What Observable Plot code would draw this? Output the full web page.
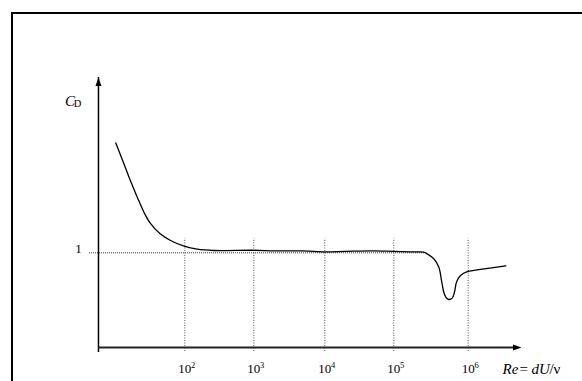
<!DOCTYPE html>
<html><head><meta charset="utf-8">
<script src="https://cdn.jsdelivr.net/npm/d3@7"></script>
<script src="https://cdn.jsdelivr.net/npm/@observablehq/plot@0.6"></script>
<style>
html,body{margin:0;padding:0;background:#fff;overflow:hidden;}
#wrap{position:relative;width:582px;height:381px;}
#wrap svg{position:absolute;left:0;top:0;}
#border{position:absolute;left:11px;top:12px;width:571px;height:369px;border-left:2px solid #000;border-top:2px solid #000;box-sizing:border-box;z-index:2;pointer-events:none;}
</style></head><body><div id="wrap"><div id="border"></div></div>
<script>
// Drag coefficient curve of a cylinder (schematic)
const reValues = [10, 13.1, 16.3, 20.4, 25.5, 31.8, 43.9, 62.1, 100, 151, 263, 1000, 2000, 5000, 1e4, 2e4, 5e4, 1e5, 2e5, 2.51e5, 2.81e5, 3.45e5, 4.03e5, 4.38e5, 4.70e5, 5.06e5, 5.48e5, 6.09e5, 6.54e5, 6.96e5, 7.88e5, 9.88e5, 1.46e6, 3.2e6];
const cdValues = [2.16, 1.94, 1.76, 1.59, 1.43, 1.31, 1.20, 1.13, 1.067, 1.038, 1.024, 1.027, 1.02, 1.02, 1.01, 1.015, 1.02, 1.015, 1.01, 1.006, 0.989, 0.937, 0.848, 0.707, 0.584, 0.525, 0.507, 0.521, 0.584, 0.690, 0.760, 0.803, 0.824, 0.863];
const xTickValues = [1e2, 1e3, 1e4, 1e5, 1e6];
const xTickBase = "10";
const xTickExponents = ["2", "3", "4", "5", "6"];
const yTickValues = [1];
const yTickLabels = ["1"];
const yLabelMain = "C";
const yLabelSub = "D";
const xLabelParts = ["Re", "=", "dU", "/", "\u03BD"];

const curve = reValues.map((re, i) => ({re, cd: cdValues[i]}));

// axis extents (data space)
const xAxisStart = 5.61, xAxisEnd = 5.2e6;
const yAxisBottom = 0, yAxisTop = 2.851;

const serif = "'Liberation Serif', 'Times New Roman', serif";

const arrowHead = {
  draw(ctx) {
    ctx.moveTo(0, 0);
    ctx.lineTo(3, 8.5);
    ctx.lineTo(-3, 8.5);
    ctx.closePath();
  }
};

// per-part horizontal offsets (px) and styles for the x label
const labelOffsets = [-19, -2, 10, 28, 32];
const labelStyles = ["italic", "normal", "italic", "normal", "normal"];

const chart = Plot.plot({
  width: 582,
  height: 381,
  margin: 0,
  style: {background: "none", fontFamily: serif, color: "#000"},
  x: {type: "log", domain: xTickValues, range: [184.3, 253.3, 324.3, 393.3, 467.7], axis: null},
  y: {type: "linear", domain: [yAxisBottom, yAxisTop], range: [347, 77], axis: null},
  marks: [
    Plot.ruleX(xTickValues, {x: d => d, y1: -0.042, y2: 1.15, stroke: "#555", strokeWidth: 1, strokeDasharray: "1,1.5"}),
    Plot.ruleY(yTickValues, {y: d => d, x1: 4.16, x2: 2.67e5, stroke: "#333", strokeWidth: 1, strokeDasharray: "1,1"}),
    Plot.ruleX([xAxisStart], {x: d => d, y1: yAxisBottom, y2: yAxisTop, insetTop: 5, stroke: "#000", strokeWidth: 1.5}),
    Plot.ruleY([yAxisBottom], {y: d => d, x1: xAxisStart, x2: xAxisEnd, insetRight: 5, stroke: "#222", strokeWidth: 1.8}),
    Plot.dot([[xAxisStart, yAxisTop]], {x: d => d[0], y: d => d[1], symbol: arrowHead, r: 3, fill: "#000", stroke: "none"}),
    Plot.dot([[xAxisEnd, yAxisBottom]], {x: d => d[0], y: d => d[1], symbol: arrowHead, r: 3, rotate: 90, fill: "#000", stroke: "none"}),
    Plot.line(curve, {x: "re", y: "cd", curve: "catmull-rom", stroke: "#000", strokeWidth: 1.3}),
    Plot.text(xTickValues, {x: d => d, y: () => yAxisBottom, text: () => xTickBase, dy: 25, textAnchor: "middle", lineAnchor: "bottom", fontSize: 13, fill: "#000", fontFamily: serif}),
    Plot.text(xTickValues, {x: d => d, y: () => yAxisBottom, text: (d, i) => xTickExponents[i], dx: 6.3, dy: 20.5, textAnchor: "start", lineAnchor: "bottom", fontSize: 8.5, fill: "#000", fontFamily: serif}),
    Plot.text(yTickValues, {x: () => xAxisStart, y: d => d, text: (d, i) => yTickLabels[i], dx: -20, textAnchor: "middle", lineAnchor: "bottom", fontSize: 13, fill: "#000", fontFamily: serif}),
    Plot.text([yLabelMain], {x: () => xAxisStart, y: () => yAxisTop, text: d => d, dx: -33.5, dy: 28, textAnchor: "start", lineAnchor: "bottom", fontSize: 15, fontStyle: "italic", fill: "#000", fontFamily: serif}),
    Plot.text([yLabelSub], {x: () => xAxisStart, y: () => yAxisTop, text: d => d, dx: -24.7, dy: 29, textAnchor: "start", lineAnchor: "bottom", fontSize: 10.5, fill: "#000", fontFamily: serif}),
    ...xLabelParts.map((part, i) => Plot.text([part], {x: () => xAxisEnd, y: () => yAxisBottom, text: d => d, dx: labelOffsets[i], dy: 26, textAnchor: "start", lineAnchor: "bottom", fontSize: 15, fontStyle: labelStyles[i], fill: "#000", fontFamily: serif}))
  ]
});
document.getElementById("wrap").appendChild(chart);
</script>
</body></html>
